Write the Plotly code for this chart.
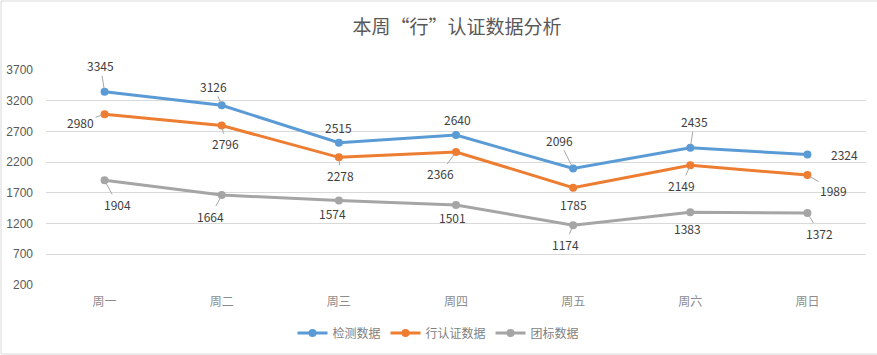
import plotly.graph_objects as go

categories = ["周一", "周二", "周三", "周四", "周五", "周六", "周日"]
series_names = ["检测数据", "行认证数据", "团标数据"]
jiance = [3345, 3126, 2515, 2640, 2096, 2435, 2324]
xingrz = [2980, 2796, 2278, 2366, 1785, 2149, 1989]
tuanbiao = [1904, 1664, 1574, 1501, 1174, 1383, 1372]
y_ticks = [200, 700, 1200, 1700, 2200, 2700, 3200, 3700]
title_text = "本周“行”认证数据分析"

colors = ["#5B9BD5", "#ED7D31", "#A5A5A5"]
all_series = [jiance, xingrz, tuanbiao]

# label offsets in pixels (dx, dy) and whether a leader line is drawn
label_offsets = [
    [(-4, -26, 1), (-8, -19, 1), (0, -15, 0), (1, -16, 0), (-14, -28, 1), (4, -26, 1), (37, 0, 0)],
    [(-24, 8, 1), (4, 18, 1), (2, 18, 1), (-16, 22, 1), (0, 17, 0), (-9, 20, 1), (26, 15, 1)],
    [(13, 24, 1), (-11, 21, 1), (-6, 13, 0), (-4, 12, 0), (-8, 19, 1), (-3, 16, 0), (12, 20, 1)],
]

fig = go.Figure()
for name, vals, col in zip(series_names, all_series, colors):
    fig.add_trace(go.Scatter(
        x=categories, y=vals, name=name, mode="lines+markers",
        line=dict(color=col, width=3),
        marker=dict(color=col, size=8),
    ))

annotations = []
for vals, offs in zip(all_series, label_offsets):
    for c, v, (dx, dy, line) in zip(categories, vals, offs):
        annotations.append(dict(
            x=c, y=v, xref="x", yref="y", text=str(v),
            showarrow=True, ax=dx, ay=dy, arrowhead=0, arrowwidth=1,
            arrowcolor="#A6A6A6" if line else "rgba(0,0,0,0)",
            standoff=3,
            font=dict(size=12, color="#404040", family="Noto Sans CJK SC, Liberation Sans"),
        ))

fig.update_layout(
    width=877, height=355,
    margin=dict(l=46, r=11, t=70, b=70, autoexpand=False),
    paper_bgcolor="white", plot_bgcolor="white",
    title=dict(text=title_text, x=457 / 877, xanchor="center", xref="container",
               y=1 - 27 / 355, yanchor="middle", yref="container",
               font=dict(size=19, color="#595959", family="Noto Sans CJK SC")),
    xaxis=dict(type="category", range=[-0.5, 6.5], showgrid=False, zeroline=False,
               showline=False, ticks="", automargin=False, ticklabelstandoff=8,
               tickfont=dict(size=12, color="#8C8C8C", family="Noto Sans CJK SC")),
    yaxis=dict(range=[200, 3700], tickvals=y_ticks, showgrid=True, gridcolor="#D9D9D9",
               gridwidth=1, zeroline=False, showline=False, ticks="", automargin=False,
               ticklabelstandoff=12,
               tickfont=dict(size=12, color="#595959", family="Liberation Sans")),
    legend=dict(orientation="h", x=0.5, xanchor="center", xref="container",
                y=22 / 355, yanchor="middle", yref="container",
                font=dict(size=12, color="#7F7F7F", family="Noto Sans CJK SC")),
    annotations=annotations,
    shapes=[dict(type="rect", xref="paper", yref="paper",
                 x0=-45 / 820, x1=865 / 820, y0=-69 / 215, y1=284 / 215,
                 line=dict(color="#D9D9D9", width=1))],
    showlegend=True,
)

fig.write_html("out.html", config={"displayModeBar": False},
               post_script="document.body.style.margin='0';document.body.style.overflow='hidden';")
